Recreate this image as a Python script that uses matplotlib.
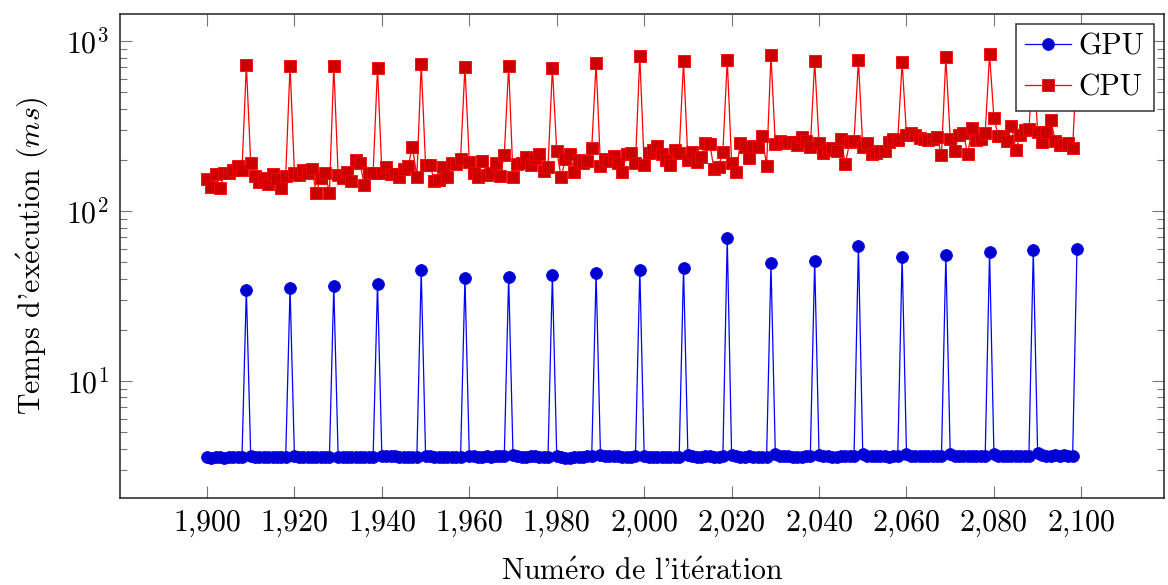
import numpy as np
import matplotlib
matplotlib.use("Agg")
import matplotlib.pyplot as plt
from matplotlib.ticker import FixedLocator, LogLocator, NullFormatter

iterations = np.arange(1900, 2100)

gpu_ms = [
    3.55, 3.54, 3.55, 3.55, 3.54, 3.55, 3.56, 3.57, 3.56, 34.5,
    3.62, 3.56, 3.57, 3.56, 3.55, 3.55, 3.56, 3.55, 3.56, 35.2,
    3.60, 3.55, 3.56, 3.56, 3.57, 3.58, 3.58, 3.56, 3.56, 36.2,
    3.58, 3.56, 3.56, 3.58, 3.56, 3.56, 3.55, 3.56, 3.58, 37.3,
    3.63, 3.62, 3.62, 3.60, 3.58, 3.58, 3.57, 3.56, 3.56, 44.8,
    3.61, 3.60, 3.57, 3.55, 3.56, 3.56, 3.57, 3.56, 3.56, 40.5,
    3.62, 3.60, 3.57, 3.58, 3.60, 3.57, 3.60, 3.60, 3.62, 41.0,
    3.66, 3.60, 3.58, 3.58, 3.60, 3.61, 3.58, 3.58, 3.58, 42.0,
    3.62, 3.58, 3.54, 3.53, 3.55, 3.58, 3.57, 3.60, 3.61, 43.3,
    3.68, 3.60, 3.60, 3.61, 3.62, 3.58, 3.56, 3.58, 3.60, 45.2,
    3.64, 3.58, 3.56, 3.57, 3.58, 3.58, 3.57, 3.56, 3.55, 46.5,
    3.67, 3.62, 3.58, 3.58, 3.60, 3.60, 3.56, 3.57, 3.62, 69.0,
    3.66, 3.60, 3.58, 3.59, 3.60, 3.58, 3.57, 3.56, 3.55, 49.2,
    3.70, 3.60, 3.62, 3.61, 3.58, 3.58, 3.59, 3.61, 3.63, 50.8,
    3.67, 3.63, 3.60, 3.58, 3.59, 3.60, 3.61, 3.62, 3.62, 62.5,
    3.70, 3.64, 3.62, 3.61, 3.60, 3.60, 3.59, 3.60, 3.61, 54.0,
    3.72, 3.64, 3.62, 3.62, 3.61, 3.61, 3.60, 3.62, 3.63, 55.4,
    3.72, 3.64, 3.62, 3.62, 3.63, 3.62, 3.61, 3.61, 3.62, 57.2,
    3.74, 3.64, 3.64, 3.64, 3.64, 3.63, 3.62, 3.61, 3.62, 58.6,
    3.75, 3.66, 3.64, 3.64, 3.65, 3.64, 3.65, 3.63, 3.60, 60.2,
]

cpu_ms = [
    154, 139, 165, 136, 168, 168, 174, 184, 174, 723,
    192, 161, 149, 157, 144, 165, 154, 136, 161, 716,
    168, 163, 174, 168, 177, 128, 157, 168, 128, 716,
    163, 157, 170, 151, 199, 192, 142, 168, 168, 690,
    168, 181, 165, 165, 158, 176, 184, 239, 159, 730,
    186, 186, 151, 152, 181, 158, 191, 189, 202, 706,
    195, 168, 158, 197, 163, 168, 192, 161, 213, 716,
    158, 189, 192, 207, 186, 204, 218, 173, 181, 694,
    226, 158, 202, 218, 170, 199, 191, 197, 234, 745,
    184, 202, 197, 210, 192, 170, 218, 220, 192, 813,
    186, 220, 230, 241, 216, 199, 186, 228, 220, 759,
    199, 223, 195, 209, 250, 248, 176, 182, 223, 772,
    192, 170, 250, 239, 204, 241, 237, 276, 184, 824,
    248, 259, 250, 255, 255, 245, 274, 259, 237, 763,
    250, 220, 230, 234, 226, 264, 189, 254, 259, 772,
    239, 250, 218, 220, 226, 226, 255, 267, 262, 750,
    280, 289, 280, 270, 264, 262, 264, 271, 213, 802,
    267, 226, 280, 289, 216, 310, 262, 264, 286, 835,
    351, 276, 276, 259, 316, 230, 280, 299, 302, 790,
    293, 255, 293, 343, 259, 245, 244, 251, 234, 810,
]

x_ticks = [1900, 1920, 1940, 1960, 1980, 2000, 2020, 2040, 2060, 2080, 2100]
x_tick_labels = ["1,900", "1,920", "1,940", "1,960", "1,980", "2,000",
                 "2,020", "2,040", "2,060", "2,080", "2,100"]
y_ticks = [10, 100, 1000]
y_tick_labels = [r"$10^{1}$", r"$10^{2}$", r"$10^{3}$"]

x_label = r"Num$\acute{\mathrm{e}}$ro de l'it$\acute{\mathrm{e}}$ration"
y_label = r"Temps d'ex$\acute{\mathrm{e}}$cution ($ms$)"

plt.rcParams['font.family'] = ['cmr10', 'DejaVu Serif']
plt.rcParams['mathtext.fontset'] = 'cm'
plt.rcParams['axes.formatter.use_mathtext'] = True
plt.rcParams['axes.unicode_minus'] = False

FS = 21.5

W, H = 1168, 585
fig = plt.figure(figsize=(W / 100, H / 100), dpi=100)
ax = fig.add_axes([120 / W, 1 - 498 / H, 1044 / W, 484 / H])

ax.plot(iterations, gpu_ms, color=(0, 0, 1), lw=0.9, marker='o',
        markersize=8.5, markerfacecolor=(0, 0, 0.8), markeredgecolor=(0, 0, 1),
        markeredgewidth=0.6, label='GPU')
ax.plot(iterations, cpu_ms, color=(1, 0, 0), lw=0.9, marker='s',
        markersize=8.0, markerfacecolor=(0.8, 0, 0), markeredgecolor=(1, 0, 0),
        markeredgewidth=0.6, label='CPU')

ax.set_yscale('log')
ax.set_xlim(1880.1, 2118.9)
ax.set_ylim(2.05, 1443)

ax.xaxis.set_major_locator(FixedLocator(x_ticks))
ax.set_xticklabels(x_tick_labels)
ax.yaxis.set_major_locator(FixedLocator(y_ticks))
ax.set_yticklabels(y_tick_labels)
ax.yaxis.set_minor_locator(LogLocator(base=10, subs=np.arange(2, 10)))
ax.yaxis.set_minor_formatter(NullFormatter())

ax.tick_params(which='both', direction='in', top=True, right=True,
               color='#777777', width=0.8, labelsize=FS)
ax.tick_params(which='major', length=8.5, pad=8)
ax.tick_params(which='minor', length=5)
for s in ax.spines.values():
    s.set_linewidth(1.1)
    s.set_color('#222222')

ax.set_xlabel(x_label, fontsize=FS, labelpad=16)
ax.set_ylabel(y_label, fontsize=FS, labelpad=12)

leg = ax.legend(loc='upper right', fontsize=FS, frameon=True, fancybox=False,
                framealpha=1, edgecolor='#333333', borderaxespad=0.35,
                handlelength=1.55, handletextpad=0.25, borderpad=0.3,
                labelspacing=0.45)
leg.get_frame().set_linewidth(1.1)
leg.set_zorder(10)

fig.savefig('out.png', dpi=100)
